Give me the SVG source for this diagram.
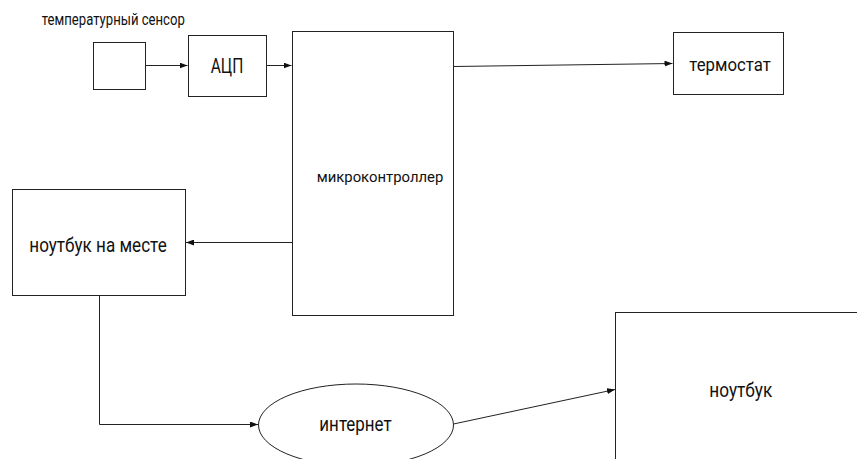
<svg xmlns="http://www.w3.org/2000/svg" width="857" height="459" viewBox="0 0 857 459">
  <style>
    .box { fill: #fff; stroke: #222; stroke-width: 1; }
    .con { fill: none; stroke: #222; stroke-width: 1; }
    .t { font-family: Roboto, "Liberation Sans", sans-serif; fill: #111; text-anchor: middle; }
  </style>
  <defs>
    <marker id="arr" markerUnits="userSpaceOnUse" markerWidth="8" markerHeight="6" refX="8" refY="3" orient="auto">
      <path d="M0,0 L8,3 L0,6 z" fill="#111"/>
    </marker>
  </defs>
  <rect width="857" height="459" fill="#fff"/>

  <g id="label-sensor">
    <text class="t" x="113.3" y="25" font-size="16.5" textLength="143" lengthAdjust="spacingAndGlyphs">температурный сенсор</text>
  </g>
  <g id="sensor">
    <rect class="box" x="93.5" y="42.5" width="52" height="47"/>
  </g>
  <g id="adc">
    <rect class="box" x="188.5" y="35.5" width="78" height="61"/>
    <text class="t" x="227" y="72.7" font-size="20" textLength="32.6" lengthAdjust="spacingAndGlyphs">АЦП</text>
  </g>
  <g id="mcu">
    <rect class="box" x="292.5" y="31.5" width="161" height="284"/>
    <text class="t" x="380" y="181.7" font-size="15.5" textLength="126.7" lengthAdjust="spacingAndGlyphs">микроконтроллер</text>
  </g>
  <g id="thermostat">
    <rect class="box" x="673.5" y="32.5" width="110" height="62"/>
    <text class="t" x="730" y="70.7" font-size="19" textLength="81.4" lengthAdjust="spacingAndGlyphs">термостат</text>
  </g>
  <g id="laptop-local">
    <rect class="box" x="12.5" y="189.5" width="173" height="106"/>
    <text class="t" x="98" y="252" font-size="20" textLength="137.4" lengthAdjust="spacingAndGlyphs">ноутбук на месте</text>
  </g>
  <g id="internet">
    <ellipse class="box" cx="356" cy="425" rx="97.5" ry="41"/>
    <text class="t" x="355.5" y="430.7" font-size="20" textLength="72.3" lengthAdjust="spacingAndGlyphs">интернет</text>
  </g>
  <g id="laptop">
    <rect class="box" x="615.5" y="312.5" width="260" height="170"/>
    <text class="t" x="740.8" y="397" font-size="20" textLength="63" lengthAdjust="spacingAndGlyphs">ноутбук</text>
  </g>

  <g id="connectors">
    <path class="con" d="M145.5,65.5 L187.5,65.5" marker-end="url(#arr)"/>
    <path class="con" d="M266.5,65.5 L291.5,65.5" marker-end="url(#arr)"/>
    <path class="con" d="M453.5,66.5 L672.5,63.5" marker-end="url(#arr)"/>
    <path class="con" d="M292.5,242.5 L186,242.5" marker-end="url(#arr)"/>
    <path class="con" d="M99.5,295.5 L99.5,424.5 L258,424.5" marker-end="url(#arr)"/>
    <path class="con" d="M453.5,424 L615,389.5" marker-end="url(#arr)"/>
  </g>
</svg>
